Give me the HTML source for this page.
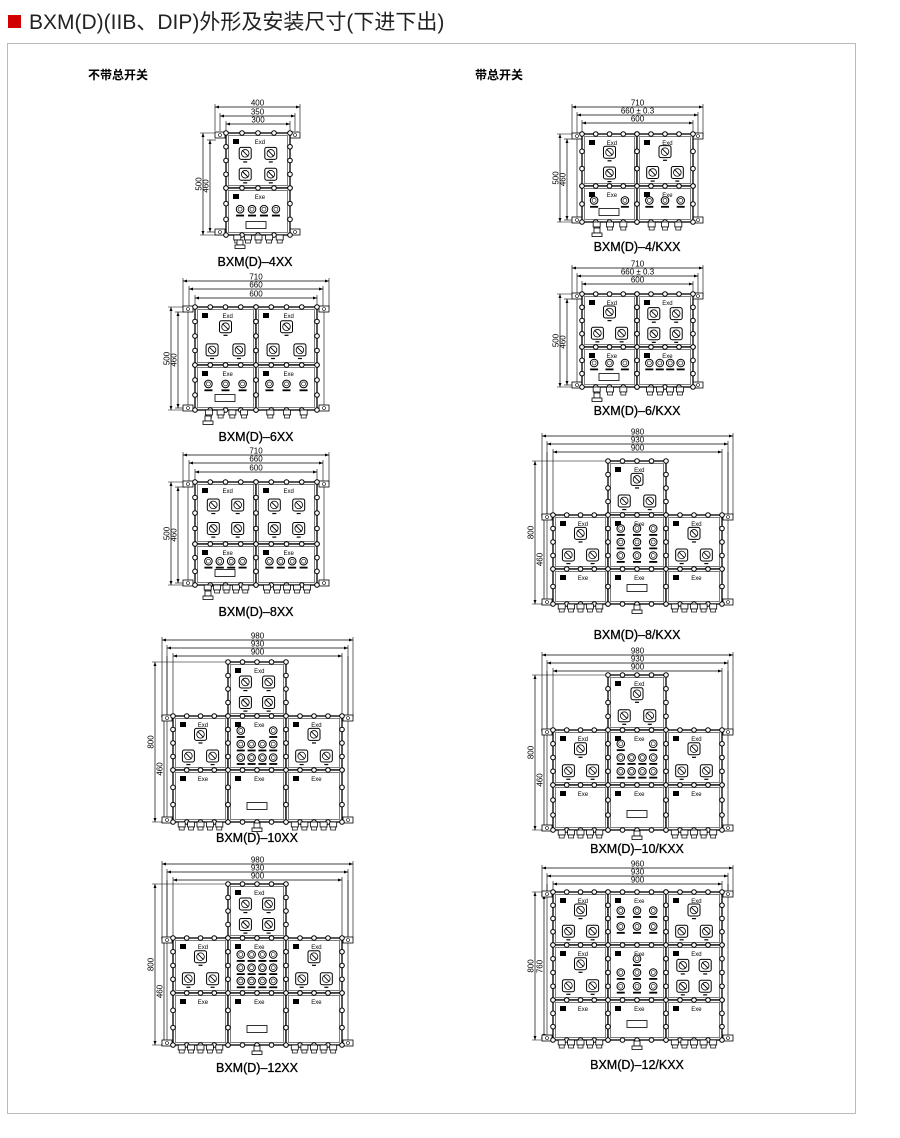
<!DOCTYPE html>
<html><head><meta charset="utf-8">
<style>
html,body{margin:0;padding:0;background:#fff;}
body{width:900px;height:1138px;position:relative;overflow:hidden;font-family:"Liberation Sans","Noto Sans CJK SC",sans-serif;}
.title{position:absolute;left:8px;top:6px;font-size:21px;color:#222;white-space:nowrap;}
.title i{display:inline-block;width:13px;height:13px;background:#d00000;margin-right:8px;vertical-align:1px;}
.frame{position:absolute;left:7px;top:43px;width:847px;height:1069px;border:1px solid #bbb;}
.sub{position:absolute;font-size:12px;font-weight:bold;color:#000;}
svg{position:absolute;left:0;top:0;}
</style></head><body>
<div class="title"><i></i>BXM(D)(IIB、DIP)外形及安装尺寸(下进下出)</div>
<div class="frame"></div>
<div class="sub" style="left:88px;top:66px;">不带总开关</div>
<div class="sub" style="left:475px;top:66px;">带总开关</div>
<svg id="d" width="900" height="1138" viewBox="0 0 900 1138" font-family="Liberation Sans, sans-serif">
<g font-size="12.5" text-anchor="middle" fill="#000" stroke="#000" stroke-width="0.3">
<text x="255" y="266">BXM(D)–4XX</text>
<text x="256" y="441">BXM(D)–6XX</text>
<text x="256" y="616">BXM(D)–8XX</text>
<text x="257" y="842">BXM(D)–10XX</text>
<text x="257" y="1072">BXM(D)–12XX</text>
<text x="637" y="251">BXM(D)–4/KXX</text>
<text x="637" y="415">BXM(D)–6/KXX</text>
<text x="637" y="639">BXM(D)–8/KXX</text>
<text x="637" y="853">BXM(D)–10/KXX</text>
<text x="637" y="1069">BXM(D)–12/KXX</text>
</g>
<g id="g"></g>
</svg>
<script>
const S=[];const P=t=>S.push(t);
function rect(x,y,w,h,a){P(`<rect x="${x}" y="${y}" width="${w}" height="${h}" ${a}/>`)}
function line(x1,y1,x2,y2,sw){P(`<line x1="${x1}" y1="${y1}" x2="${x2}" y2="${y2}" stroke="#000" stroke-width="${sw||0.7}"/>`)}
function circ(cx,cy,r,a){P(`<circle cx="${cx}" cy="${cy}" r="${r}" ${a}/>`)}
function bolt(x,y){circ(x,y,2.3,'fill="#fff" stroke="#000" stroke-width="1"')}
function sw(cx,cy){rect(cx-6,cy-6,12,12,'rx="2" fill="#fff" stroke="#000" stroke-width="1"');circ(cx,cy,3.8,'fill="none" stroke="#000" stroke-width=".8"');line(cx-3,cy-3,cx+3,cy+3,.9);rect(cx-2,cy+8,4,1.2,'fill="#000"')}
function lamp(cx,cy){circ(cx,cy,3.8,'fill="#fff" stroke="#000" stroke-width="1"');circ(cx,cy,2,'fill="none" stroke="#000" stroke-width=".6"');rect(cx-4,cy+5.5,8,1.8,'fill="#000"')}
function panel(x,y,w,h,lab,items){
 rect(x,y,w,h,'fill="#fff" stroke="#000" stroke-width="1.3"');
 rect(x+2.5,y+2.5,w-5,h-5,'fill="none" stroke="#000" stroke-width=".5"');
 let n=Math.max(2,Math.round(w/15));for(let i=0;i<=n;i++){bolt(x+w*i/n,y);bolt(x+w*i/n,y+h);}
 let m=Math.max(2,Math.round(h/15));for(let j=1;j<m;j++){bolt(x,y+h*j/m);bolt(x+w,y+h*j/m);}
 rect(x+7,y+6,6,5,'fill="#000"');
 P(`<text x="${x+w*0.45}" y="${y+11}" font-size="6">${lab}</text>`);
 (items||[]).forEach(([t,rx,ry])=>{if(t=='s')sw(x+rx*w,y+ry*h);else lamp(x+rx*w,y+ry*h);});
}
const D4=[['s',.3,.37],['s',.7,.37],['s',.3,.75],['s',.7,.75]];
const D3=[['s',.5,.34],['s',.28,.74],['s',.72,.74]];
const D2=[['s',.5,.35],['s',.5,.75]];
function E(n,ry){const a=[];for(let i=0;i<n;i++)a.push(['l',n==1?.5:.22+.56*i/(n-1),ry||.42]);return a;}
function G(rows){const a=[];rows.forEach(([n,ry])=>{E(n,ry).forEach(v=>a.push(v));});return a;}
function disp(cx,cy){rect(cx-10,cy-3.5,20,7,'fill="#fff" stroke="#000" stroke-width=".8"')}
function glands(x1,x2,y,n){const st=(x2-x1)/n;for(let i=0;i<n;i++){const cx=x1+st*(i+.5);rect(cx-3.5,y,7,5,'fill="#fff" stroke="#000" stroke-width=".8"');rect(cx-2.5,y+5,5,3,'fill="#fff" stroke="#000" stroke-width=".7"');}}
function bigGland(cx,y){rect(cx-3,y,6,5,'fill="#fff" stroke="#000" stroke-width=".8"');rect(cx-5,y+5,10,3.5,'fill="#fff" stroke="#000" stroke-width=".8"');}
function arrow(x,y,dir){P(`<path d="M${x} ${y} l${-4*dir} -1.5 v3 z" fill="#000"/>`)}
function hdim(x1,x2,y,lab,ext){line(x1,y,x2,y,.7);line(x1,y-3,x1,ext,.6);line(x2,y-3,x2,ext,.6);arrow(x1,y,-1);arrow(x2,y,1);P(`<text x="${(x1+x2)/2}" y="${y-1.5}" font-size="8" text-anchor="middle">${lab}</text>`)}
function vdim(x,y1,y2,lab,ex){line(x,y1,x,y2,.7);line(x-3,y1,ex,y1,.6);line(x-3,y2,ex,y2,.6);P(`<path d="M${x} ${y1} l-1.5 4 h3 z M${x} ${y2} l-1.5 -4 h3 z" fill="#000"/>`);P(`<text transform="translate(${x-1.5},${(y1+y2)/2}) rotate(-90)" font-size="8" text-anchor="middle">${lab}</text>`)}
function ears(xl,xr,y){[xl,xr-10].forEach(x=>{rect(x,y-3,10,6,'fill="#fff" stroke="#000" stroke-width=".8"');circ(x+5,y,1.5,'fill="none" stroke="#000" stroke-width=".6"')});}
function frameLines(xl,xr,yt,yb){line(xl+5,yt,xl+5,yb,.6);line(xr-5,yt,xr-5,yb,.6);}

// ---- 4XX
hdim(215,300,107,'400',131);hdim(220,295,116,'350',131);hdim(226,290,124,'300',133);
vdim(203,133,235,'500',226);vdim(210,140,232,'460',216);
ears(215,300,135);ears(215,300,232);
panel(226,133,64,55,'Exd',D4);panel(226,188,64,47,'Exe',E(4,.45));disp(256,225);
glands(232,285,235,5);bigGland(240,240);

// ---- 6XX / 8XX
function twoCol(y0,ys,y1,dl,dr,el,er,gl,gr,d){
 hdim(183,329,d,'710',y0+2);hdim(189,323,d+8,'660',y0);hdim(195,317,d+17,'600',y0);
 vdim(171,y0,y1,'500',195);vdim(178,y0+5,y1-2,'460',185);
 frameLines(183,329,y0,y1);ears(183,329,y0+2);ears(183,329,y1-2);
 panel(195,y0,61,ys-y0,'Exd',dl);panel(256,y0,61,ys-y0,'Exd',dr);
 panel(195,ys,61,y1-ys,'Exe',el);panel(256,ys,61,y1-ys,'Exe',er);
 disp(225,y1-12);glands(203,250,y1,gl);glands(262,312,y1,gr);bigGland(208,y1+6);
}
twoCol(307,365,410,D3,D3,E(3,.42),E(3,.42),4,3,281);
twoCol(482,544,585,D4,D4,E(4,.42),E(4,.42),5,5,455);

function three(cx,yT,yM,yB,yE,top,ml,mc,mr,d,k,dimLab){
 const x=[cx-84,cx-29,cx+29,cx+85];
 const xl=x[0]-11,xr=x[3]+11;
 const yTop=yT||yM;
 hdim(xl,xr,d,dimLab[0],yM+2);hdim(xl+5,xr-5,d+8,dimLab[1],yM);hdim(x[0],x[3],d+16,dimLab[2],yM);
 vdim(xl-7,yTop,yE,dimLab[3],x[1]);vdim(xl+2,yT?yM:yM+3,yE-(yT?0:2),dimLab[4],x[0]);
 line(xl+5,d+16,xl+5,yM,.6);line(xr-5,d+16,xr-5,yM,.6);
 frameLines(xl,xr,yM,yE);ears(xl,xr,yM+2);ears(xl,xr,yE-2);
 if(top)panel(x[1],yT,x[2]-x[1],yM-yT,top[0],top[1]);
 panel(x[0],yM,x[1]-x[0],yB-yM,ml[0],ml[1]);panel(x[1],yM,x[2]-x[1],yB-yM,mc[0],mc[1]);panel(x[2],yM,x[3]-x[2],yB-yM,mr[0],mr[1]);
 let yb=yB;
 if(k){k.forEach(r=>{panel(x[0],r[0],x[1]-x[0],r[1]-r[0],r[2][0],r[2][1]);panel(x[1],r[0],x[2]-x[1],r[1]-r[0],r[3][0],r[3][1]);panel(x[2],r[0],x[3]-x[2],r[1]-r[0],r[4][0],r[4][1]);yb=r[1];});}
 panel(x[0],yb,x[1]-x[0],yE-yb,'Exe',[]);panel(x[1],yb,x[2]-x[1],yE-yb,'Exe',[]);panel(x[2],yb,x[3]-x[2],yE-yb,'Exe',[]);
 disp(cx,yE-16);glands(x[0]+4,x[1]-4,yE,5);glands(x[2]+4,x[3]-4,yE,5);bigGland(cx,yE+1);
}
three(257,662,716,770,822,['Exd',D4],['Exd',D3],['Exe',G([[2,.27],[4,.52],[4,.77]])],['Exd',D3],640,null,['980','930','900','800','460']);
three(257,884,938,993,1045,['Exd',D4],['Exd',D3],['Exe',G([[4,.3],[4,.54],[4,.78]])],['Exd',D3],864,null,['980','930','900','800','460']);

function twoColK(y0,ys,y1,dl,dr,el,er,gl,gr,d){
 const a=582,b=637,c=693;
 hdim(572,703,d,'710',y0+2);hdim(577,698,d+8,'660 ± 0.3',y0);hdim(a,c,d+16,'600',y0);
 vdim(560,y0,y1,'500',582);vdim(567,y0+5,y1-2,'460',572);
 frameLines(572,703,y0,y1);ears(572,703,y0+2);ears(572,703,y1-2);
 panel(a,y0,b-a,ys-y0,'Exd',dl);panel(b,y0,c-b,ys-y0,'Exd',dr);
 panel(a,ys,b-a,y1-ys,'Exe',el);panel(b,ys,c-b,y1-ys,'Exe',er);
 disp(609,y1-10);glands(590,630,y1,gl);glands(645,685,y1,gr);bigGland(597,y1+6);
}
twoColK(134,186,222,D2,D3,E(2,.4),E(3,.4),3,3,107);
twoColK(294,347,387,D3,D4,E(3,.4),E(4,.4),3,4,268);

three(637,461,515,569,604,['Exd',D3],['Exd',D3],['Exe',G([[3,.25],[3,.5],[3,.75]])],['Exd',D3],436,null,['980','930','900','800','460']);
three(637,675,730,785,830,['Exd',D3],['Exd',D3],['Exe',G([[2,.25],[4,.5],[4,.75]])],['Exd',D3],655,null,['980','930','900','800','460']);
three(637,null,892,945,1040,null,['Exd',D3],['Exe',G([[3,.35],[3,.65]])],['Exd',D3],868,[[945,1000,['Exd',D3],['Exe',G([[1,.25],[3,.5],[3,.75]])],['Exd',D4]]],['960','930','900','800','760']);

document.getElementById('g').innerHTML=S.join('');
</script>
</body></html>
